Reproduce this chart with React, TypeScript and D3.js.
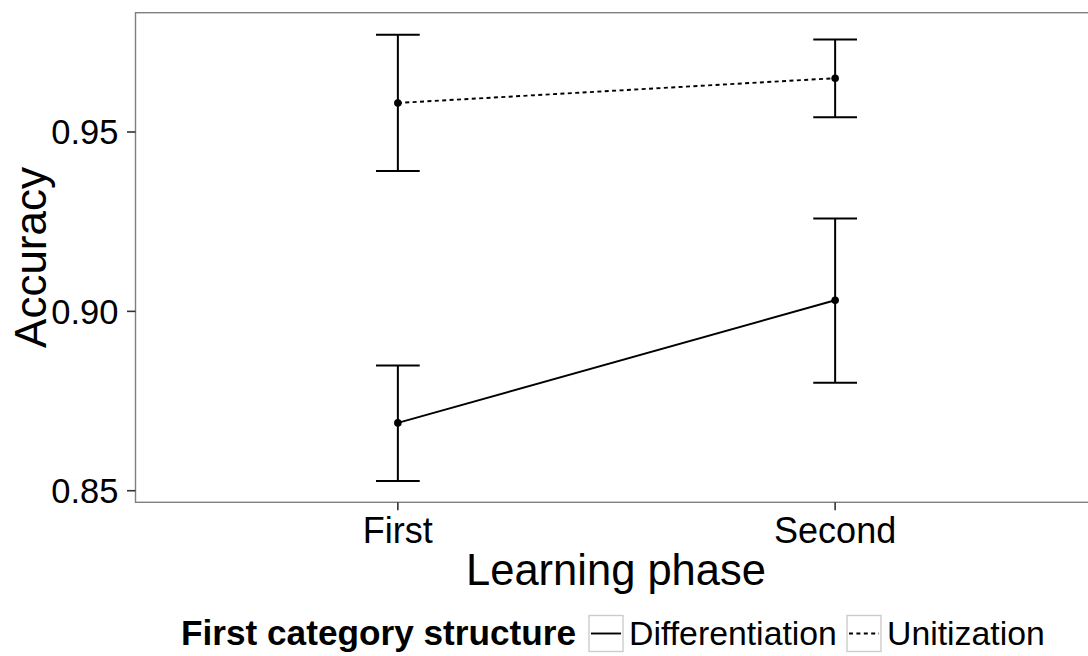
import React from "react";
import * as d3 from "d3";

const phases = ["First", "Second"];
const seriesNames = ["Differentiation", "Unitization"];
const differentiationMean = [0.8689, 0.9031];
const differentiationLower = [0.8527, 0.8801];
const differentiationUpper = [0.8849, 0.9259];
const unitizationMean = [0.9581, 0.965];
const unitizationLower = [0.9391, 0.9541];
const unitizationUpper = [0.9771, 0.9758];
const yTicks = [0.85, 0.9, 0.95];
const yDomain = [0.84677, 0.98326];

const W = 1088;
const H = 656;
const panel = { left: 135.5, right: 1097.5, top: 12.7, bottom: 502.3 };
const FONT = "'Liberation Sans', Arial, Helvetica, sans-serif";

export default function App() {
  const x = d3.scalePoint<string>().domain(phases).range([panel.left, panel.right]).padding(0.6);
  const y = d3.scaleLinear().domain(yDomain).range([panel.bottom, panel.top]);
  const step = x.step();
  const capHalf = step * 0.05;

  const series = [
    { name: seriesNames[0], mean: differentiationMean, lo: differentiationLower, hi: differentiationUpper, dash: undefined as string | undefined },
    { name: seriesNames[1], mean: unitizationMean, lo: unitizationLower, hi: unitizationUpper, dash: "4 3.4" },
  ];

  const line = d3
    .line<number>()
    .x((_, i) => x(phases[i]) as number)
    .y((d) => y(d));

  return (
    <svg width={W} height={H} style={{ position: "absolute", left: 0, top: 0, background: "#fff" }} fontFamily={FONT}>
      <rect x={0} y={0} width={W} height={H} fill="#fff" />
      {/* panel */}
      <rect
        x={panel.left}
        y={panel.top}
        width={panel.right - panel.left}
        height={panel.bottom - panel.top}
        fill="#fff"
        stroke="#7f7f7f"
        strokeWidth={1.4}
      />
      {/* error bars */}
      {series.map((s) =>
        phases.map((p, i) => {
          const cx = x(p) as number;
          return (
            <g key={s.name + p} stroke="#000" strokeWidth={2} fill="none">
              <line x1={cx} x2={cx} y1={y(s.lo[i])} y2={y(s.hi[i])} />
              <line x1={cx - capHalf} x2={cx + capHalf} y1={y(s.hi[i])} y2={y(s.hi[i])} />
              <line x1={cx - capHalf} x2={cx + capHalf} y1={y(s.lo[i])} y2={y(s.lo[i])} />
            </g>
          );
        })
      )}
      {/* lines */}
      {series.map((s) => (
        <path key={s.name} d={line(s.mean) || ""} fill="none" stroke="#000" strokeWidth={1.9} strokeDasharray={s.dash} />
      ))}
      {/* points */}
      {series.map((s) =>
        s.mean.map((m, i) => <circle key={s.name + i} cx={x(phases[i]) as number} cy={y(m)} r={3.8} fill="#000" />)
      )}
      {/* y axis */}
      {yTicks.map((t) => (
        <g key={t}>
          <line x1={panel.left - 8.5} x2={panel.left} y1={y(t)} y2={y(t)} stroke="#333" strokeWidth={1.6} />
          <text x={118.5} y={y(t)} dy="0.36em" textAnchor="end" fontSize={34.5} fill="#000">
            {d3.format(".2f")(t)}
          </text>
        </g>
      ))}
      {/* x axis */}
      {phases.map((p) => (
        <g key={p}>
          <line x1={x(p) as number} x2={x(p) as number} y1={panel.bottom} y2={panel.bottom + 8} stroke="#333" strokeWidth={1.6} />
          <text x={x(p) as number} y={543} textAnchor="middle" fontSize={36} fill="#000">
            {p}
          </text>
        </g>
      ))}
      <text x={(panel.left + panel.right) / 2 - 0.5} y={585} textAnchor="middle" fontSize={43.5} fill="#000">
        Learning phase
      </text>
      <text
        transform={`translate(46, ${(panel.top + panel.bottom) / 2}) rotate(-90)`}
        textAnchor="middle"
        fontSize={44}
        fill="#000"
      >
        Accuracy
      </text>
      {/* legend */}
      <text x={181} y={645} fontSize={35.2} fontWeight="bold" fill="#000">
        First category structure
      </text>
      {series.map((s, i) => {
        const kx = i === 0 ? 589 : 847;
        return (
          <g key={s.name}>
            <rect x={kx} y={615.5} width={34} height={36} fill="#fff" stroke="#cccccc" strokeWidth={1.4} />
            <line x1={kx + 2} x2={kx + 32} y1={633.5} y2={633.5} stroke="#000" strokeWidth={1.9} strokeDasharray={s.dash} />
            <text x={kx + 40} y={645} fontSize={33.8} fill="#000">
              {s.name}
            </text>
          </g>
        );
      })}
    </svg>
  );
}
